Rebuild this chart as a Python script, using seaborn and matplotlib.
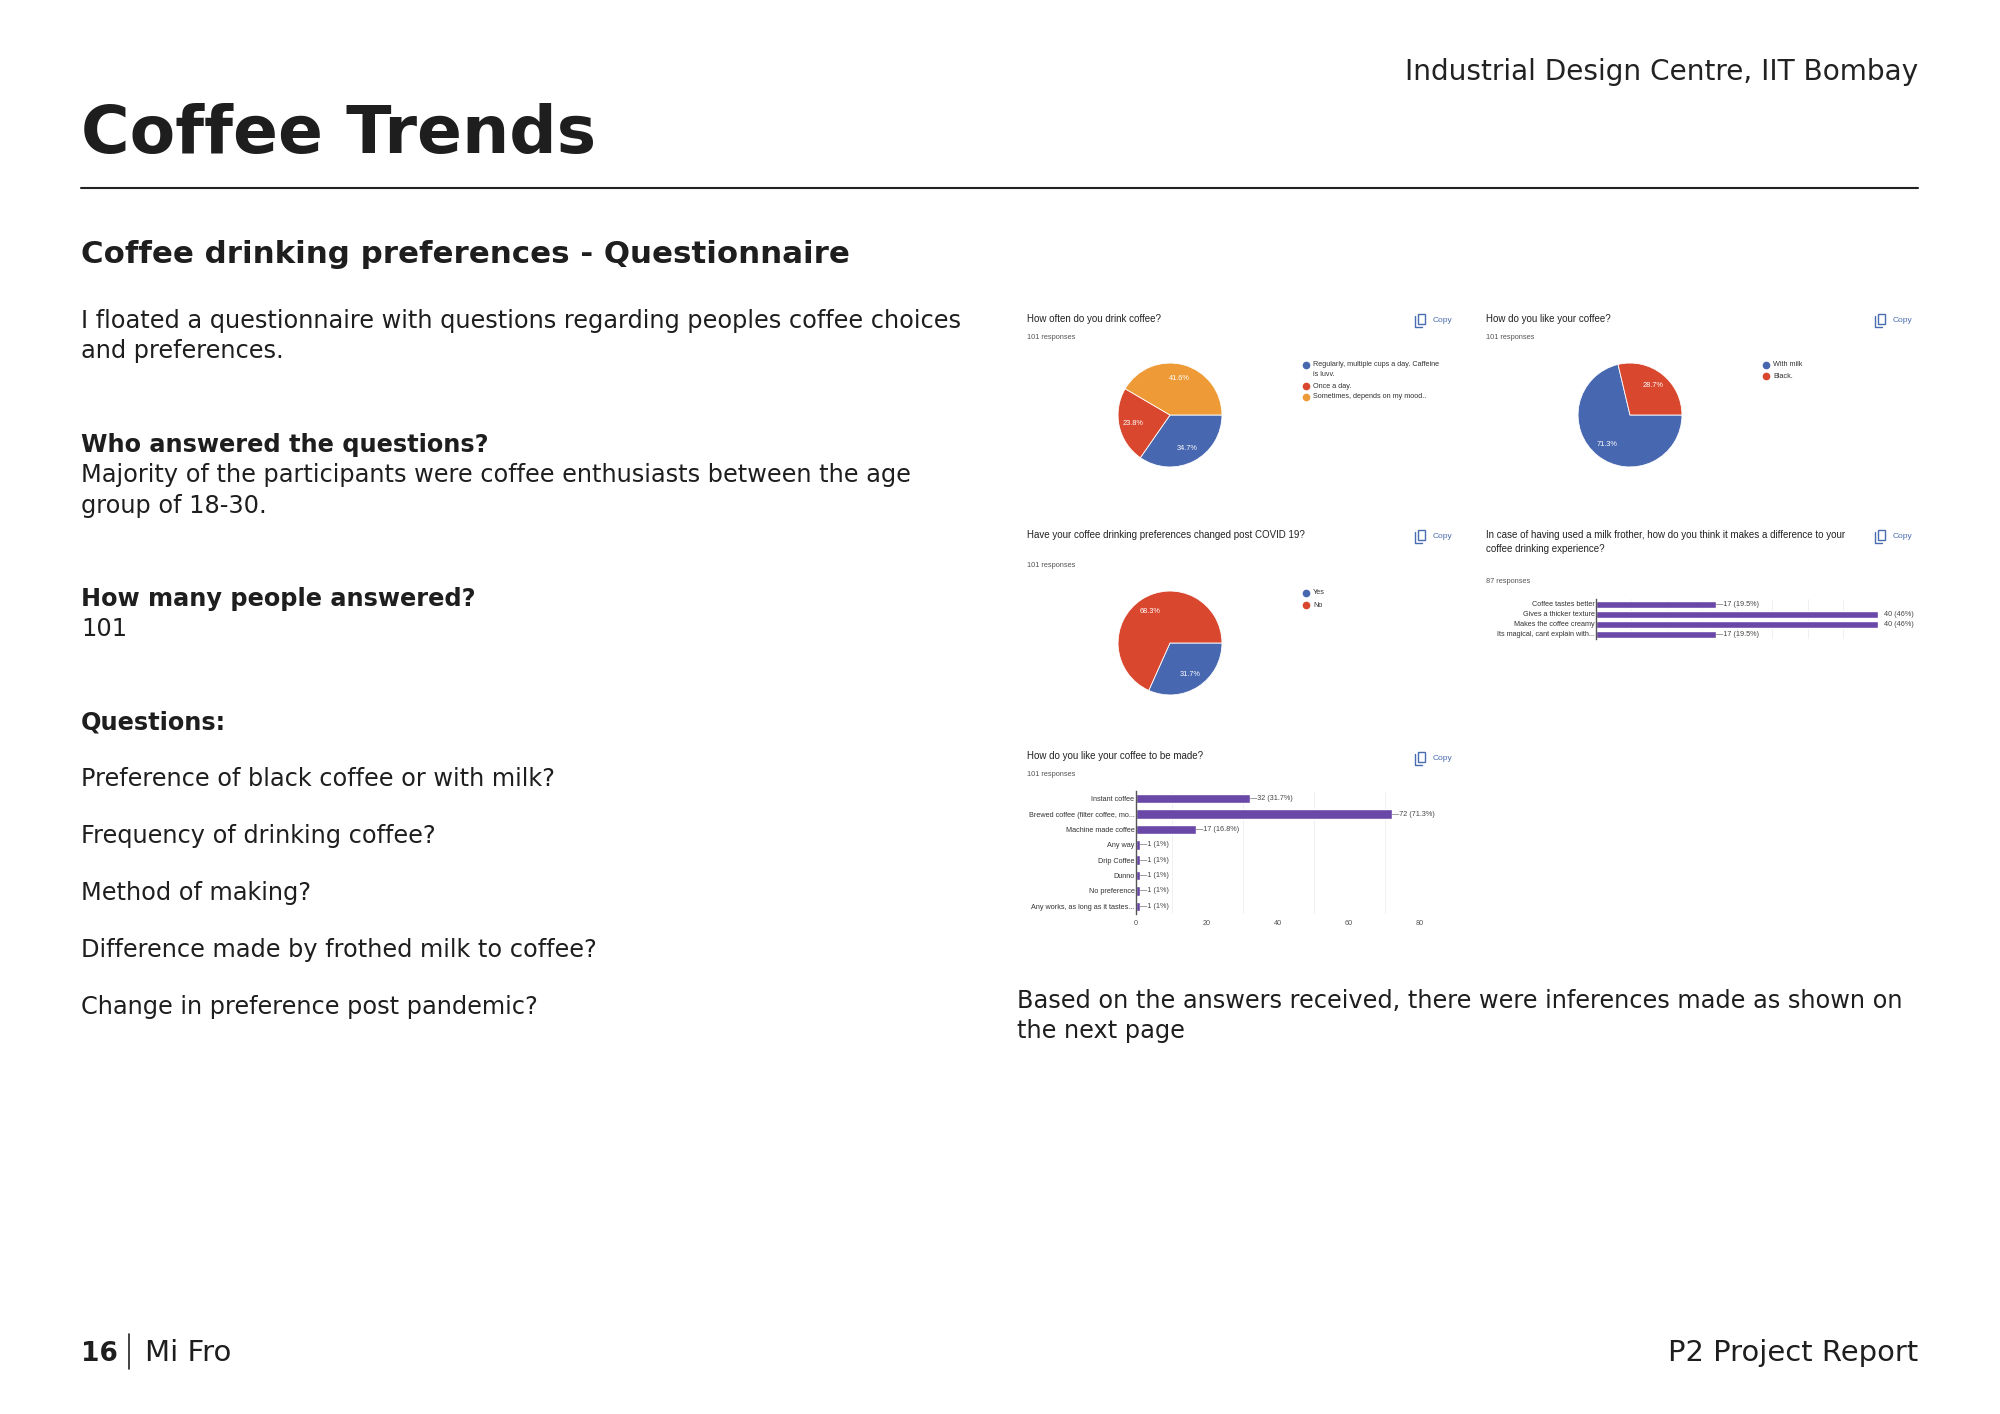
import matplotlib
matplotlib.use("Agg")
import matplotlib.pyplot as plt
from matplotlib.lines import Line2D
from matplotlib.patches import Rectangle
import pandas as pd
import seaborn as sns

# ---- data ----
freq_labels = ["Regularly, multiple cups a day. Caffeine\nis luvv.", "Once a day.",
               "Sometimes, depends on my mood.."]
freq_pct = [34.7, 23.8, 41.6]

milk_labels = ["With milk", "Black."]
milk_pct = [71.3, 28.7]

covid_labels = ["Yes", "No"]
covid_pct = [31.7, 68.3]

frother_labels = ["Coffee tastes better", "Gives a thicker texture",
                  "Makes the coffee creamy", "Its magical, cant explain with..."]
frother_counts = [17, 40, 40, 17]
frother_share = ["19.5%", "46%", "46%", "19.5%"]

made_labels = ["Instant coffee", "Brewed coffee (filter coffee, mo...", "Machine made coffee",
               "Any way", "Drip Coffee", "Dunno", "No preference",
               "Any works, as long as it tastes..."]
made_counts = [32, 72, 17, 1, 1, 1, 1, 1]
made_share = ["31.7%", "71.3%", "16.8%", "1%", "1%", "1%", "1%", "1%"]
made_ticks = [0, 20, 40, 60, 80]

questions = ["Preference of black coffee or with milk?", "Frequency of drinking coffee?",
             "Method of making?", "Difference made by frothed milk to coffee?",
             "Change in preference post pandemic?"]

BLUE, RED, ORANGE = "#4767B0", "#D9472F", "#EE9A36"
PURPLE = "#6A48A8"
LINK = "#4A6CB0"

sns.set_theme(style="white")
plt.rcParams["font.family"] = ["DejaVu Sans"]

W, H = 2000, 1414
fig = plt.figure(figsize=(20, 14.14), dpi=100)


def txt(x, y, s, **kw):
    kw.setdefault("va", "baseline")
    return fig.text(x / W, 1 - y / H, s, **kw)


def add_ax(x0, y0, x1, y1):
    return fig.add_axes([x0 / W, 1 - y1 / H, (x1 - x0) / W, (y1 - y0) / H])


def line(xs, ys, lw=1.5, color="#222222"):
    fig.add_artist(Line2D([x / W for x in xs], [1 - y / H for y in ys], lw=lw,
                          color=color, transform=fig.transFigure))


CH = ["Liberation Sans", "DejaVu Sans"]


def copy_button(x, y):
    # little copy icon + label like Google Forms
    fig.add_artist(Rectangle((x / W, 1 - (y + 5) / H), 7 / W, 10 / H, fill=False,
                             lw=1.0, ec=LINK, transform=fig.transFigure))
    line([x - 3, x - 3, x + 4], [y - 3, y + 8, y + 8], lw=1.0, color=LINK)
    txt(x + 15, y + 3, "Copy", fontsize=6, color=LINK, family=CH)


def legend(x, y, labels, colors, step=11):
    yy = y
    for lab, c in zip(labels, colors):
        fig.add_artist(Line2D([x / W], [1 - yy / H], marker="o", ms=4.5, color=c,
                              lw=0, transform=fig.transFigure))
        parts = lab.split("\n")
        for k, ln in enumerate(parts):
            txt(x + 7, yy + k * 10, ln, fontsize=5.2, color="#333333", family=CH, va="center")
        yy += step + 10 * (len(parts) - 1)


def pie(cx, cy, r, values, colors):
    ax = add_ax(cx - r, cy - r, cx + r, cy + r)
    wedges, texts, autot = ax.pie(values, colors=colors, startangle=0, counterclock=False,
                                  autopct="%.1f%%", pctdistance=0.72,
                                  wedgeprops=dict(edgecolor="white", linewidth=0.6),
                                  textprops=dict(color="white", fontsize=5.3, family=CH))
    for t, v in zip(autot, values):
        t.set_text(f"{v:.1f}%")
    ax.set_xlim(-1.02, 1.02)
    ax.set_ylim(-1.02, 1.02)
    ax.set_aspect("equal")
    ax.axis("off")
    return ax


def hbar(ax, labels, counts, shares, xmax, grid_step, ticks=None, width=0.62):
    df = pd.DataFrame({"label": labels, "count": counts})
    sns.barplot(data=df, x="count", y="label", orient="h", color=PURPLE, saturation=1,
                width=width, ax=ax)
    ax.set_xlim(0, xmax)
    ax.set_xlabel("")
    ax.set_ylabel("")
    for sp in ["top", "right", "bottom"]:
        ax.spines[sp].set_visible(False)
    ax.spines["left"].set_color("#555555")
    ax.spines["left"].set_linewidth(1.0)
    ax.set_xticks(range(0, xmax + 1, grid_step), minor=True)
    ax.grid(axis="x", which="minor", color="#EEEEEE", lw=0.6)
    ax.set_axisbelow(True)
    if ticks is None:
        ax.set_xticks([])
    else:
        ax.set_xticks(ticks)
    ax.tick_params(axis="x", labelsize=5.2, colors="#555555", length=0, pad=4)
    ax.tick_params(axis="y", labelsize=5.2, colors="#333333", length=0, pad=1)
    for lab in ax.get_xticklabels() + ax.get_yticklabels():
        lab.set_family(CH)
    for i, (v, s) in enumerate(zip(counts, shares)):
        if v >= xmax:
            ax.text(v + xmax * 0.02, i, f"{v} ({s})", va="center", ha="left",
                    fontsize=5.2, color="#444444", family=CH, clip_on=False)
        else:
            ax.text(v, i, f"\u2014{v} ({s})", va="center", ha="left",
                    fontsize=5.2, color="#444444", family=CH, clip_on=False)


# ---- page header ----
txt(1918, 80, "Industrial Design Centre, IIT Bombay", fontsize=20.2, ha="right", color="#222222")
txt(81, 153, "Coffee Trends", fontsize=47.8, fontweight="bold", color="#1E1E1E")
line([81, 1918], [187.5, 187.5])
txt(81, 263, "Coffee drinking preferences - Questionnaire", fontsize=22.2, fontweight="bold",
    color="#1E1E1E")

# ---- left column ----
BODY = dict(fontsize=17.3, color="#1E1E1E")
txt(81, 328, "I floated a questionnaire with questions regarding peoples coffee choices", **BODY)
txt(81, 358, "and preferences.", **BODY)
txt(81, 452, "Who answered the questions?", fontweight="bold", **BODY)
txt(81, 482, "Majority of the participants were coffee enthusiasts between the age", **BODY)
txt(81, 513, "group of 18-30.", **BODY)
txt(81, 606, "How many people answered?", fontweight="bold", **BODY)
txt(81, 636, "101", **BODY)
txt(81, 730, "Questions:", fontweight="bold", **BODY)
for k, q in enumerate(questions):
    txt(81, 786 + k * 57, q, **BODY)

txt(1017, 1008, "Based on the answers received, there were inferences made as shown on", **BODY)
txt(1017, 1038, "the next page", **BODY)

# ---- form screenshots ----
TITLE = dict(fontsize=7, color="#222222", family=CH)
SUB = dict(fontsize=5.3, color="#555555", family=CH)

# how often
txt(1027, 322, "How often do you drink coffee?", **TITLE)
txt(1027, 339, "101 responses", **SUB)
copy_button(1418, 319)
pie(1170, 415, 53, freq_pct, [BLUE, RED, ORANGE])
legend(1306, 365, freq_labels, [BLUE, RED, ORANGE])

# with milk / black
txt(1486, 322, "How do you like your coffee?", **TITLE)
txt(1486, 339, "101 responses", **SUB)
copy_button(1878, 319)
pie(1630, 415, 53, milk_pct, [BLUE, RED])
legend(1766, 365, milk_labels, [BLUE, RED])

# covid
txt(1027, 538, "Have your coffee drinking preferences changed post COVID 19?", **TITLE)
txt(1027, 567, "101 responses", **SUB)
copy_button(1418, 535)
pie(1170, 643, 53, covid_pct, [BLUE, RED])
legend(1306, 593, covid_labels, [BLUE, RED], step=12)

# milk frother
txt(1486, 538, "In case of having used a milk frother, how do you think it makes a difference to your",
    **TITLE)
txt(1486, 552, "coffee drinking experience?", **TITLE)
txt(1486, 583, "87 responses", **SUB)
copy_button(1878, 535)
ax4 = add_ax(1596, 599, 1878, 639)
hbar(ax4, frother_labels, frother_counts, frother_share, 40, 5, width=0.7)

# how made
txt(1027, 759, "How do you like your coffee to be made?", **TITLE)
txt(1027, 776, "101 responses", **SUB)
copy_button(1418, 757)
ax5 = add_ax(1136, 791, 1420, 914)
hbar(ax5, made_labels, made_counts, made_share, 80, 10, ticks=made_ticks)

# ---- footer ----
txt(81, 1361, "16", fontsize=19, fontweight="bold", color="#1E1E1E")
line([129, 129], [1334, 1369], lw=1.2)
txt(145, 1361, "Mi Fro", fontsize=21, color="#1E1E1E")
txt(1918, 1361, "P2 Project Report", fontsize=20.9, ha="right", color="#1E1E1E")

fig.savefig("out.png", dpi=100, facecolor="white")
